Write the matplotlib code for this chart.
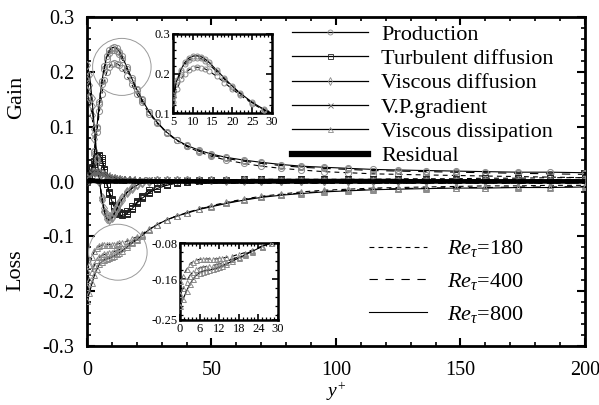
import numpy as np
import matplotlib
matplotlib.use('Agg')
import matplotlib.pyplot as plt
from matplotlib.lines import Line2D
from matplotlib.patches import Ellipse
from matplotlib.ticker import MultipleLocator, FormatStrFormatter

# ── Style ────────────────────────────────────────────────────────────
plt.rcParams.update({
    'font.family': 'serif',
    'font.serif': ['Liberation Serif', 'DejaVu Serif'],
    'mathtext.fontset': 'custom',
    'mathtext.rm': 'Liberation Serif',
    'mathtext.it': 'Liberation Serif:italic',
    'axes.unicode_minus': False,
    'lines.scale_dashes': False,
    'xtick.direction': 'in', 'ytick.direction': 'in',
    'xtick.top': True, 'ytick.right': True,
})

# ── Data ─────────────────────────────────────────────────────────────
YP = [0, 1, 2, 3, 4, 5, 6, 7, 8, 9, 10, 11, 12, 13, 14, 16, 18, 20, 22, 25,
      28, 32, 36, 40, 45, 50, 56, 63, 70, 78, 86, 95, 105, 115, 125, 136,
      148, 160, 173, 186, 200]

# production
P180 = [0.000, 0.003, 0.018, 0.050, 0.090, 0.128, 0.160, 0.185, 0.200, 0.209, 0.214,
        0.216, 0.215, 0.212, 0.207, 0.193, 0.177, 0.160, 0.145, 0.124, 0.107, 0.089,
        0.075, 0.064, 0.054, 0.046, 0.039, 0.033, 0.028, 0.024, 0.021, 0.018, 0.016,
        0.014, 0.013, 0.012, 0.011, 0.010, 0.009, 0.008, 0.007]
P400 = [0.000, 0.003, 0.019, 0.053, 0.097, 0.141, 0.178, 0.205, 0.223, 0.234, 0.239,
        0.240, 0.238, 0.232, 0.224, 0.205, 0.185, 0.166, 0.148, 0.126, 0.108, 0.089,
        0.075, 0.065, 0.055, 0.048, 0.042, 0.037, 0.033, 0.029, 0.026, 0.024, 0.022,
        0.020, 0.019, 0.018, 0.017, 0.016, 0.015, 0.014, 0.013]
P800 = [0.000, 0.003, 0.020, 0.055, 0.100, 0.145, 0.183, 0.210, 0.228, 0.239, 0.244,
        0.245, 0.243, 0.237, 0.229, 0.209, 0.188, 0.168, 0.150, 0.127, 0.109, 0.090,
        0.076, 0.066, 0.057, 0.050, 0.044, 0.039, 0.035, 0.031, 0.028, 0.026, 0.024,
        0.022, 0.021, 0.020, 0.019, 0.018, 0.017, 0.017, 0.016]

# turbulent diffusion
T180 = [0.000, 0.010, 0.022, 0.032, 0.040, 0.042, 0.036, 0.018, -0.005, -0.020, -0.032,
        -0.042, -0.050, -0.055, -0.057, -0.054, -0.045, -0.035, -0.026, -0.016, -0.009,
        -0.004, -0.001, 0.001, 0.002, 0.003, 0.003, 0.004, 0.004, 0.004, 0.004, 0.004,
        0.004, 0.004, 0.005, 0.005, 0.005, 0.006, 0.006, 0.007, 0.007]
T400 = [0.000, 0.011, 0.024, 0.036, 0.044, 0.047, 0.040, 0.021, -0.004, -0.021, -0.034,
        -0.045, -0.053, -0.058, -0.060, -0.057, -0.048, -0.038, -0.029, -0.019, -0.012,
        -0.006, -0.002, 0.000, 0.001, 0.002, 0.003, 0.003, 0.003, 0.003, 0.003, 0.003,
        0.003, 0.003, 0.003, 0.003, 0.003, 0.002, 0.002, 0.002, 0.002]
T800 = [0.000, 0.012, 0.026, 0.038, 0.046, 0.049, 0.042, 0.022, -0.004, -0.022, -0.036,
        -0.047, -0.055, -0.060, -0.062, -0.059, -0.050, -0.040, -0.031, -0.021, -0.013,
        -0.007, -0.003, -0.001, 0.001, 0.002, 0.003, 0.003, 0.004, 0.004, 0.004, 0.004,
        0.004, 0.004, 0.004, 0.003, 0.003, 0.003, 0.003, 0.003, 0.003]

# viscous diffusion
V180 = [0.165, 0.153, 0.121, 0.077, 0.035, 0.000, -0.028, -0.048, -0.060, -0.063, -0.060,
        -0.053, -0.045, -0.037, -0.029, -0.018, -0.010, -0.005, -0.001, 0.001, 0.002,
        0.003, 0.003, 0.002, 0.002, 0.002, 0.001, 0.001, 0.001, 0.001, 0.001, 0.001,
        0.001, 0.001, 0.001, 0.001, 0.001, 0.001, 0.001, 0.001, 0.001]
V400 = [0.190, 0.176, 0.138, 0.087, 0.039, 0.001, -0.031, -0.053, -0.065, -0.068, -0.064,
        -0.057, -0.048, -0.039, -0.031, -0.020, -0.012, -0.006, -0.002, 0.001, 0.002,
        0.003, 0.003, 0.003, 0.002, 0.002, 0.002, 0.002, 0.001, 0.001, 0.001, 0.001,
        0.001, 0.001, 0.001, 0.001, 0.001, 0.001, 0.001, 0.001, 0.001]
V800 = [0.212, 0.195, 0.152, 0.095, 0.043, 0.002, -0.033, -0.056, -0.068, -0.071, -0.067,
        -0.059, -0.050, -0.041, -0.033, -0.021, -0.013, -0.007, -0.003, 0.000, 0.002,
        0.003, 0.003, 0.003, 0.003, 0.002, 0.002, 0.002, 0.002, 0.001, 0.001, 0.001,
        0.001, 0.001, 0.001, 0.001, 0.001, 0.001, 0.001, 0.001, 0.001]

# velocity-pressure gradient
G180 = [0.000, 0.008, 0.013, 0.016, 0.016, 0.015, 0.013, 0.011, 0.009, 0.008, 0.007,
        0.006, 0.005, 0.005, 0.004, 0.004, 0.003, 0.003, 0.003, 0.003, 0.002, 0.002,
        0.002, 0.002, 0.002, 0.002, 0.002, 0.002, 0.002, 0.002, 0.002, 0.002, 0.002,
        0.002, 0.002, 0.002, 0.002, 0.002, 0.002, 0.002, 0.002]
G400 = [0.000, 0.009, 0.015, 0.018, 0.018, 0.017, 0.015, 0.012, 0.010, 0.009, 0.008,
        0.007, 0.006, 0.005, 0.005, 0.004, 0.004, 0.003, 0.003, 0.003, 0.003, 0.002,
        0.002, 0.002, 0.002, 0.002, 0.002, 0.002, 0.002, 0.002, 0.002, 0.002, 0.002,
        0.002, 0.002, 0.002, 0.002, 0.002, 0.002, 0.002, 0.002]
G800 = [0.000, 0.010, 0.016, 0.019, 0.019, 0.018, 0.016, 0.013, 0.011, 0.009, 0.008,
        0.007, 0.006, 0.005, 0.005, 0.004, 0.004, 0.003, 0.003, 0.003, 0.003, 0.002,
        0.002, 0.002, 0.002, 0.002, 0.002, 0.002, 0.002, 0.002, 0.002, 0.002, 0.002,
        0.002, 0.002, 0.002, 0.002, 0.002, 0.002, 0.002, 0.002]

# viscous dissipation
E180 = [-0.163, -0.152, -0.138, -0.127, -0.121, -0.118, -0.116, -0.115, -0.115, -0.115,
        -0.115, -0.115, -0.114, -0.113, -0.112, -0.109, -0.105, -0.101, -0.096, -0.087,
        -0.079, -0.070, -0.063, -0.057, -0.050, -0.044, -0.038, -0.032, -0.027, -0.023,
        -0.019, -0.016, -0.014, -0.012, -0.011, -0.010, -0.009, -0.008, -0.008, -0.007,
        -0.007]
E400 = [-0.192, -0.180, -0.165, -0.152, -0.143, -0.138, -0.135, -0.133, -0.132, -0.131,
        -0.130, -0.128, -0.126, -0.124, -0.121, -0.116, -0.110, -0.104, -0.098, -0.088,
        -0.079, -0.070, -0.063, -0.057, -0.050, -0.045, -0.039, -0.033, -0.028, -0.024,
        -0.021, -0.018, -0.016, -0.014, -0.013, -0.012, -0.011, -0.011, -0.010, -0.010,
        -0.009]
E800 = [-0.218, -0.203, -0.186, -0.171, -0.160, -0.151, -0.146, -0.143, -0.141, -0.140,
        -0.138, -0.136, -0.133, -0.130, -0.127, -0.120, -0.113, -0.106, -0.099, -0.088,
        -0.079, -0.070, -0.063, -0.058, -0.051, -0.046, -0.040, -0.034, -0.029, -0.025,
        -0.022, -0.019, -0.017, -0.015, -0.014, -0.013, -0.012, -0.012, -0.011, -0.011,
        -0.010]

# residual
R180 = [0.000, 0.002, 0.003, 0.002, 0.001, 0.000, -0.001, -0.001, 0.000, 0.000, 0.000,
        0.000, 0.000, 0.000, 0.000, 0.000, 0.000, 0.000, 0.000, 0.000, 0.000, 0.000,
        0.000, 0.000, 0.000, 0.000, 0.000, 0.000, 0.000, 0.000, 0.000, 0.000, 0.000,
        0.000, 0.000, 0.000, 0.000, 0.000, 0.000, 0.000, 0.000]
R400 = [0.000, 0.001, 0.002, 0.002, 0.001, 0.000, -0.001, 0.000, 0.000, 0.000, 0.000,
        0.000, 0.000, 0.000, 0.000, 0.000, 0.000, 0.000, 0.000, 0.000, 0.000, 0.000,
        0.000, 0.000, 0.000, 0.000, 0.000, 0.000, 0.000, 0.000, 0.000, 0.000, 0.000,
        0.000, 0.000, 0.000, 0.000, 0.000, 0.000, 0.000, 0.000]
R800 = [0.000, 0.001, 0.001, 0.001, 0.000, 0.000, 0.000, 0.000, 0.000, 0.000, 0.000,
        0.000, 0.000, 0.000, 0.000, 0.000, 0.000, 0.000, 0.000, 0.000, 0.000, 0.000,
        0.000, 0.000, 0.000, 0.000, 0.000, 0.000, 0.000, 0.000, 0.000, 0.000, 0.000,
        0.000, 0.000, 0.000, 0.000, 0.000, 0.000, 0.000, 0.000]

TERMS = ["Production", "Turbulent diffusion", "Viscous diffusion",
         "V.P.gradient", "Viscous dissipation", "Residual"]
MARKERS = ["o", "s", "d", "x", "^", None]
MK_COLORS = ['#8a8a8a', '#222222', '#8a8a8a', '#666666', '#8a8a8a', None]
RE_LABELS = ["180", "400", "800"]
SERIES = {
    "Production":          [P180, P400, P800],
    "Turbulent diffusion": [T180, T400, T800],
    "Viscous diffusion":   [V180, V400, V800],
    "V.P.gradient":        [G180, G400, G800],
    "Viscous dissipation": [E180, E400, E800],
    "Residual":            [R180, R400, R800],
}
RE_LS = [(0, (3.5, 3.0)), (0, (6.0, 5.5)), '-']


def draw_term(ax, name, marker, mcol, lw=0.8, ms=4.4):
    for vals, ls in zip(SERIES[name], RE_LS):
        if marker is None:
            ax.plot(YP, vals, color='k', ls=ls, lw=3.2, zorder=4)
        else:
            ax.plot(YP, vals, color='k', ls=ls, lw=lw, marker=marker, ms=ms,
                    mfc='none', mec=mcol, mew=0.7, zorder=3)


def style_box(ax, lw):
    for s in ax.spines.values():
        s.set_linewidth(lw)


# ── Figure ───────────────────────────────────────────────────────────
fig = plt.figure(figsize=(5.99, 4.05), dpi=100)
ax = fig.add_axes([0.1452, 0.1457, 0.8314, 0.8123])

for name, mk, mc in zip(TERMS, MARKERS, MK_COLORS):
    draw_term(ax, name, mk, mc)

ax.set_xlim(0, 200)
ax.set_ylim(-0.3, 0.3)
ax.xaxis.set_major_locator(MultipleLocator(50))
ax.xaxis.set_minor_locator(MultipleLocator(10))
ax.yaxis.set_major_locator(MultipleLocator(0.1))
ax.yaxis.set_minor_locator(MultipleLocator(0.02))
ax.yaxis.set_major_formatter(FormatStrFormatter('%.1f'))
ax.tick_params(which='major', length=6, width=1.5, labelsize=14.5, pad=9)
ax.tick_params(which='minor', length=3, width=1.2)
ax.tick_params(axis='x', pad=11)
style_box(ax, 2.0)

ax.set_xlabel(r'$y^{+}$', fontsize=14, labelpad=0)

fig.text(0.027, (405 - 97) / 405, 'Gain', rotation=90, fontsize=16,
         ha='center', va='center')
fig.text(0.027, (405 - 270) / 405, 'Loss', rotation=90, fontsize=16,
         ha='center', va='center')

# circled regions
ax.add_patch(Ellipse((14.0, 0.209), 23.5, 0.104, fill=False, ec='#9a9a9a', lw=0.7, zorder=6))
ax.add_patch(Ellipse((12.4, -0.129), 23.5, 0.102, fill=False, ec='#9a9a9a', lw=0.7, zorder=6))

# legend for terms
term_handles = []
for mk, mc in zip(MARKERS, MK_COLORS):
    if mk is None:
        term_handles.append(Line2D([], [], color='k', lw=4.5))
    else:
        term_handles.append(Line2D([], [], color='k', lw=0.9, marker=mk, ms=3.6,
                                   mfc='none', mec=mc, mew=0.6))
leg1 = ax.legend(term_handles, TERMS, loc='upper left',
                 bbox_to_anchor=(0.412, 0.978), frameon=False, fontsize=16,
                 handlelength=3.4, handletextpad=0.6, labelspacing=0.17,
                 borderpad=0, borderaxespad=0, numpoints=1)
ax.add_artist(leg1)

re_handles = [Line2D([], [], color='k', lw=0.8, ls=ls) for ls in RE_LS]
re_texts = [r'$Re_\tau$=' + r for r in RE_LABELS]
ax.legend(re_handles, re_texts, loc='upper left',
          bbox_to_anchor=(0.566, 0.327), frameon=False, fontsize=16,
          handlelength=2.6, handletextpad=0.9, labelspacing=0.52,
          borderpad=0, borderaxespad=0)

# inset: production near peak
ax1 = fig.add_axes([173 / 599, (405 - 113) / 405, 99 / 599, 79 / 405])
draw_term(ax1, "Production", "o", MK_COLORS[0], lw=0.8, ms=3.6)
ax1.set_xlim(5, 30)
ax1.set_ylim(0.1, 0.3)
ax1.xaxis.set_major_locator(MultipleLocator(5))
ax1.xaxis.set_minor_locator(MultipleLocator(1))
ax1.yaxis.set_major_locator(MultipleLocator(0.1))
ax1.yaxis.set_minor_locator(MultipleLocator(0.02))
ax1.yaxis.set_major_formatter(FormatStrFormatter('%.1f'))
ax1.tick_params(which='major', length=4, width=1.2, labelsize=9, pad=2)
ax1.tick_params(which='minor', length=2, width=0.9)
style_box(ax1, 1.8)

# inset: dissipation near wall
ax2 = fig.add_axes([180 / 599, (405 - 320) / 405, 98 / 599, 77 / 405])
draw_term(ax2, "Viscous dissipation", "^", MK_COLORS[4], lw=0.8, ms=3.6)
ax2.set_xlim(0, 30)
ax2.set_ylim(-0.25, -0.08)
ax2.set_xticks([0, 6, 12, 18, 24, 30])
ax2.xaxis.set_minor_locator(MultipleLocator(1.2))
ax2.set_yticks([-0.25, -0.16, -0.08])
ax2.yaxis.set_minor_locator(MultipleLocator(0.02))
ax2.yaxis.set_major_formatter(FormatStrFormatter('%.2f'))
ax2.tick_params(which='major', length=4, width=1.2, labelsize=9, pad=2)
ax2.tick_params(which='minor', length=2, width=0.9)
style_box(ax2, 1.8)

fig.savefig('out.png', dpi=100)
